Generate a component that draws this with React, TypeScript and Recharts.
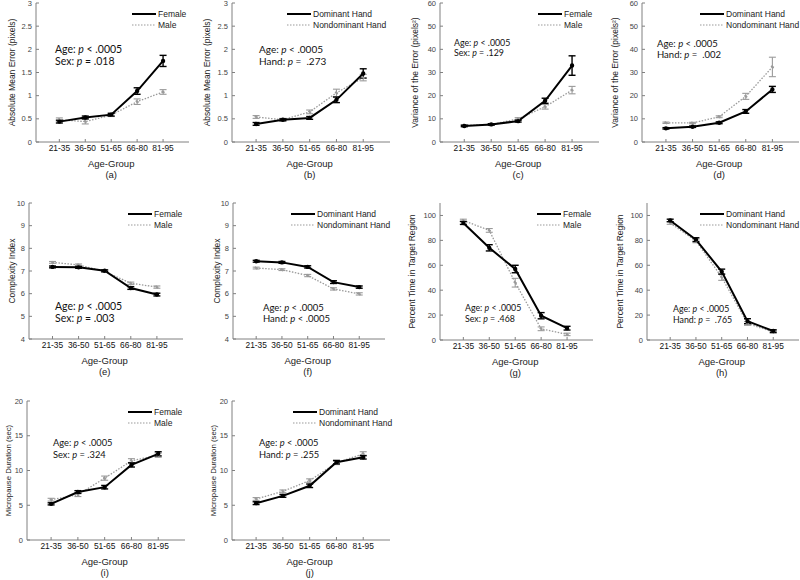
import React from "react";
import { LineChart, Line, XAxis, YAxis, ErrorBar, Label } from "recharts";

const ageGroups = ["21-35", "36-50", "51-65", "66-80", "81-95"];
const groupPos = [1, 2, 3, 4, 5];
const sexNames = ["Female", "Male"];
const handNames = ["Dominant Hand", "Nondominant Hand"];

const errTicks = [0, 0.5, 1, 1.5, 2, 2.5, 3];
const varTicks = [0, 10, 20, 30, 40, 50, 60];
const ciTicks = [4, 5, 6, 7, 8, 9, 10];
const ptTicks = [0, 20, 40, 60, 80, 100];
const mdTicks = [0, 5, 10, 15, 20];

// (a) Absolute mean error by sex
const aFemale = [0.44, 0.53, 0.59, 1.1, 1.75];
const aFemaleErr = [0.03, 0.03, 0.03, 0.07, 0.12];
const aMale = [0.48, 0.44, 0.58, 0.87, 1.08];
const aMaleErr = [0.04, 0.05, 0.03, 0.06, 0.05];
// (b) Absolute mean error by hand
const bDom = [0.39, 0.48, 0.52, 0.91, 1.48];
const bDomErr = [0.03, 0.02, 0.03, 0.06, 0.1];
const bNon = [0.54, 0.48, 0.65, 1.06, 1.39];
const bNonErr = [0.03, 0.03, 0.04, 0.08, 0.07];
// (c) Variance of error by sex
const cFemale = [6.9, 7.6, 9.0, 17.8, 33];
const cFemaleErr = [0.3, 0.3, 0.4, 1.1, 4.2];
const cMale = [7.2, 7.5, 10.0, 15.2, 22.4];
const cMaleErr = [0.3, 0.3, 0.5, 1.0, 1.6];
// (d) Variance of error by hand
const dDom = [5.9, 6.6, 8.3, 13.2, 22.7];
const dDomErr = [0.3, 0.3, 0.4, 0.8, 1.3];
const dNon = [8.3, 8.2, 10.9, 19.7, 32.4];
const dNonErr = [0.3, 0.3, 0.4, 1.3, 4.2];
// (e) Complexity index by sex
const eFemale = [7.18, 7.16, 7.01, 6.25, 5.96];
const eFemaleErr = [0.04, 0.04, 0.04, 0.06, 0.06];
const eMale = [7.38, 7.27, 6.98, 6.46, 6.29];
const eMaleErr = [0.04, 0.04, 0.04, 0.05, 0.05];
// (f) Complexity index by hand
const fDom = [7.43, 7.38, 7.18, 6.51, 6.29];
const fDomErr = [0.04, 0.04, 0.05, 0.06, 0.05];
const fNon = [7.13, 7.06, 6.8, 6.21, 5.99];
const fNonErr = [0.04, 0.04, 0.05, 0.05, 0.05];
// (g) Percent time in target region by sex
const gFemale = [94, 74, 57, 19.5, 9.5];
const gFemaleErr = [1.2, 2.5, 3, 2.5, 1.5];
const gMale = [96, 88, 46, 9, 4.5];
const gMaleErr = [1, 1.5, 3.5, 1.5, 1];
// (h) Percent time in target region by hand
const hDom = [96, 80.6, 54.9, 15.1, 7.2];
const hDomErr = [1, 1.5, 2, 2, 1];
const hNon = [93.9, 79.6, 50.4, 13.3, 6.4];
const hNonErr = [1, 1.5, 2.5, 1.5, 1];
// (i) Micropause duration by sex
const iFemale = [5.2, 6.9, 7.6, 10.8, 12.4];
const iFemaleErr = [0.15, 0.2, 0.25, 0.3, 0.3];
const iMale = [5.8, 6.5, 8.9, 11.4, 12.2];
const iMaleErr = [0.2, 0.25, 0.3, 0.3, 0.3];
// (j) Micropause duration by hand
const jDom = [5.3, 6.35, 7.8, 11.2, 11.9];
const jDomErr = [0.2, 0.2, 0.25, 0.25, 0.25];
const jNon = [5.9, 7.0, 8.55, 11.1, 12.4];
const jNonErr = [0.2, 0.2, 0.25, 0.25, 0.3];

const PADL = 45;
const PADT = 5;
const PADR = 4;
const PADB = 45;
const XDOM: [number, number] = [0.1, 6];
const AXIS = "#808080";
const GRAY = "#9a9a9a";

type Spec = {
  tag: string;
  left: number; top: number; w: number; h: number;
  yLabel: string; yLabelX: number; yLabelFs: number;
  yDomain: [number, number]; yTicks: number[];
  s1: number[]; e1: number[]; s2: number[]; e2: number[];
  names: string[];
  factor: string; op: string; pval: string;
  annX: number; annY: number; annFs: number; annGap: number;
  legX: number; legY: number;
};

const panels: Spec[] = [
  { tag: "(a)", left: 36, top: 3, w: 153, h: 139, yLabel: "Absolute Mean Error (pixels)", yLabelX: 12, yLabelFs: 8.5,
    yDomain: [0, 3], yTicks: errTicks, s1: aFemale, e1: aFemaleErr, s2: aMale, e2: aMaleErr, names: sexNames,
    factor: "Sex", op: "=", pval: ".018", annX: 55, annY: 50, annFs: 10.5, annGap: 11.5, legX: 132, legY: 14 },
  { tag: "(b)", left: 232, top: 3, w: 158, h: 139, yLabel: "Absolute Mean Error (pixels)", yLabelX: 207, yLabelFs: 8.5,
    yDomain: [0, 3], yTicks: errTicks, s1: bDom, e1: bDomErr, s2: bNon, e2: bNonErr, names: handNames,
    factor: "Hand", op: "=", pval: " .273", annX: 259, annY: 50, annFs: 10, annGap: 11.5, legX: 287, legY: 14 },
  { tag: "(c)", left: 440, top: 3, w: 159, h: 139, yLabel: "Variance of the Error (pixels²)", yLabelX: 415, yLabelFs: 8.5,
    yDomain: [0, 60], yTicks: varTicks, s1: cFemale, e1: cFemaleErr, s2: cMale, e2: cMaleErr, names: sexNames,
    factor: "Sex", op: "=", pval: ".129", annX: 454, annY: 43, annFs: 8.8, annGap: 10.5, legX: 538, legY: 14 },
  { tag: "(d)", left: 642, top: 3, w: 157, h: 139, yLabel: "Variance of the Error (pixels²)", yLabelX: 615, yLabelFs: 8.5,
    yDomain: [0, 60], yTicks: varTicks, s1: dDom, e1: dDomErr, s2: dNon, e2: dNonErr, names: handNames,
    factor: "Hand", op: "=", pval: " .002", annX: 657, annY: 43, annFs: 9.5, annGap: 11, legX: 700, legY: 14 },
  { tag: "(e)", left: 29, top: 203, w: 154, h: 136, yLabel: "Complexity Index", yLabelX: 12, yLabelFs: 8.5,
    yDomain: [4, 10], yTicks: ciTicks, s1: eFemale, e1: eFemaleErr, s2: eMale, e2: eMaleErr, names: sexNames,
    factor: "Sex", op: "=", pval: ".003", annX: 55, annY: 307, annFs: 10.5, annGap: 11.5, legX: 128, legY: 214 },
  { tag: "(f)", left: 233, top: 203, w: 152, h: 136, yLabel: "Complexity Index", yLabelX: 217, yLabelFs: 8.5,
    yDomain: [4, 10], yTicks: ciTicks, s1: fDom, e1: fDomErr, s2: fNon, e2: fNonErr, names: handNames,
    factor: "Hand", op: "<", pval: ".0005", annX: 263, annY: 307, annFs: 9.5, annGap: 11, legX: 291, legY: 214 },
  { tag: "(g)", left: 440, top: 203, w: 153, h: 137, yLabel: "Percent Time in Target Region", yLabelX: 412, yLabelFs: 8.5,
    yDomain: [0, 110], yTicks: ptTicks, s1: gFemale, e1: gFemaleErr, s2: gMale, e2: gMaleErr, names: sexNames,
    factor: "Sex", op: "=", pval: ".468", annX: 465, annY: 307, annFs: 8.8, annGap: 11, legX: 537, legY: 214 },
  { tag: "(h)", left: 647, top: 203, w: 152, h: 137, yLabel: "Percent Time in Target Region", yLabelX: 620, yLabelFs: 8.5,
    yDomain: [0, 110], yTicks: ptTicks, s1: hDom, e1: hDomErr, s2: hNon, e2: hNonErr, names: handNames,
    factor: "Hand", op: "=", pval: " .765", annX: 673, annY: 308, annFs: 8.8, annGap: 11, legX: 700, legY: 214 },
  { tag: "(i)", left: 27, top: 401, w: 158, h: 139, yLabel: "Micropause Duration (sec)", yLabelX: 8, yLabelFs: 7.8,
    yDomain: [0, 20], yTicks: mdTicks, s1: iFemale, e1: iFemaleErr, s2: iMale, e2: iMaleErr, names: sexNames,
    factor: "Sex", op: "=", pval: ".324", annX: 53, annY: 443, annFs: 9.3, annGap: 12, legX: 128, legY: 412 },
  { tag: "(j)", left: 232, top: 401, w: 158, h: 139, yLabel: "Micropause Duration (sec)", yLabelX: 213, yLabelFs: 7.8,
    yDomain: [0, 20], yTicks: mdTicks, s1: jDom, e1: jDomErr, s2: jNon, e2: jNonErr, names: handNames,
    factor: "Hand", op: "=", pval: ".255", annX: 259, annY: 443, annFs: 9.3, annGap: 12, legX: 293, legY: 412 },
];

const SANS = "'Liberation Sans', Arial, sans-serif";
const CAL = "Lato, 'Open Sans', sans-serif";

function Panel({ p }: { p: Spec }) {
  const data = groupPos.map((x, i) => ({ x, s1: p.s1[i], e1: p.e1[i], s2: p.s2[i], e2: p.e2[i] }));
  const catCenter = PADL + (p.w * (3 - XDOM[0])) / (XDOM[1] - XDOM[0]);
  const bottom = PADT + p.h;
  const yLabX = p.yLabelX - p.left + PADL;
  const yLabY = PADT + p.h / 2;
  return (
    <div style={{ position: "absolute", left: p.left - PADL, top: p.top - PADT }}>
      <LineChart width={p.w + PADL + PADR} height={p.h + PADT + PADB} data={data}
        margin={{ top: PADT, right: PADR, left: 0, bottom: 0 }}>
        <XAxis xAxisId="b" dataKey="x" type="number" domain={XDOM} ticks={groupPos} interval={0}
          tickFormatter={(v: number) => ageGroups[v - 1]} height={PADB} stroke={AXIS}
          tickSize={-3} tickMargin={6} tick={{ fontSize: 8.4, fill: "#111", fontFamily: SANS }}>
          <Label content={() => (
            <g>
              <text x={catCenter} y={bottom + 21} textAnchor="middle" dominantBaseline="central"
                fontSize={9.5} fontFamily={SANS} fill="#222">Age-Group</text>
              <text x={catCenter} y={bottom + 32} textAnchor="middle" dominantBaseline="central"
                fontSize={9.5} fontFamily={SANS} fill="#222">{p.tag}</text>
            </g>
          )} />
        </XAxis>
        <XAxis xAxisId="t" orientation="top" dataKey="x" type="number" domain={XDOM} ticks={groupPos}
          interval={0} height={0} mirror tick={false} tickSize={3} stroke={AXIS} />
        <YAxis yAxisId="l" type="number" domain={p.yDomain} ticks={p.yTicks} interval={0} width={PADL}
          stroke={AXIS} tickSize={-3} tickMargin={7}
          tick={{ fontSize: 7.5, fill: "#444", fontFamily: SANS }}>
          <Label content={() => (
            <text transform={`translate(${yLabX}, ${yLabY}) rotate(-90)`} textAnchor="middle"
              dominantBaseline="central" fontSize={p.yLabelFs} fontFamily={SANS} fill="#222">{p.yLabel}</text>
          )} />
        </YAxis>
        <YAxis yAxisId="r" orientation="right" type="number" domain={p.yDomain} ticks={p.yTicks} interval={0}
          width={0} mirror tick={false} tickSize={3} stroke={AXIS} />
        <Line xAxisId="b" yAxisId="l" dataKey="s2" stroke={GRAY} strokeWidth={1.3} strokeDasharray="1.5 1.5"
          dot={{ r: 1.1, fill: GRAY, stroke: GRAY }} isAnimationActive={false}>
          <ErrorBar dataKey="e2" width={3.5} stroke={GRAY} strokeWidth={1.1} direction="y" isAnimationActive={false} />
        </Line>
        <Line xAxisId="b" yAxisId="l" dataKey="s1" stroke="#000" strokeWidth={2}
          dot={{ r: 1.2, fill: "#000", stroke: "#000" }} isAnimationActive={false}>
          <ErrorBar dataKey="e1" width={3.5} stroke="#000" strokeWidth={1.4} direction="y" isAnimationActive={false} />
        </Line>
      </LineChart>
    </div>
  );
}

function LegendBox({ p }: { p: Spec }) {
  const row = (i: number) => (
    <div key={i} style={{ position: "absolute", left: p.legX, top: p.legY + i * 11 - 6, height: 12,
      display: "flex", alignItems: "center", whiteSpace: "nowrap" }}>
      <svg width={24} height={12} style={{ display: "block" }}>
        {i === 0
          ? <line x1={0} y1={6} x2={24} y2={6} stroke="#000" strokeWidth={2} />
          : <line x1={0} y1={6} x2={24} y2={6} stroke={GRAY} strokeWidth={1.2} strokeDasharray="1.5 1.5" />}
      </svg>
      <span style={{ marginLeft: 2, fontFamily: SANS, fontSize: 8.5, color: "#222" }}>{p.names[i]}</span>
    </div>
  );
  return <>{row(0)}{row(1)}</>;
}

function Annotation({ p }: { p: Spec }) {
  return (
    <div style={{ position: "absolute", left: p.annX, top: p.annY - p.annGap / 2, fontFamily: CAL,
      fontSize: p.annFs, lineHeight: `${p.annGap}px`, color: "#111", whiteSpace: "pre" }}>
      <div>Age: <i>p</i> &lt; .0005</div>
      <div>{p.factor}: <i>p</i> {p.op} {p.pval}</div>
    </div>
  );
}

export default function App() {
  return (
    <div style={{ position: "absolute", left: 0, top: 0, width: 800, height: 580, background: "#fff", overflow: "hidden" }}>
      {panels.map((p) => (
        <React.Fragment key={p.tag}>
          <Panel p={p} />
          <LegendBox p={p} />
          <Annotation p={p} />
        </React.Fragment>
      ))}
    </div>
  );
}
